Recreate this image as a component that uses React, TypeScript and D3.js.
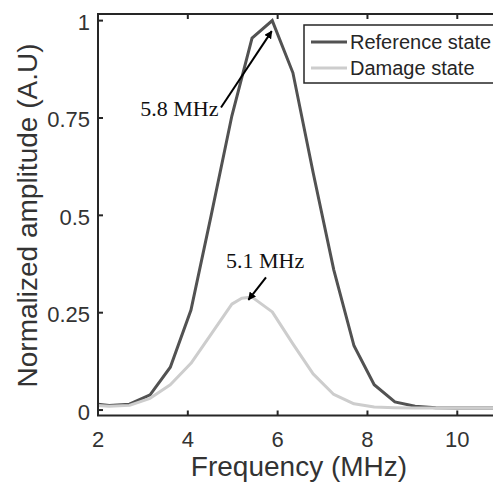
import React from "react";
import * as d3 from "d3";

const refFreq = [2.0, 2.25, 2.7, 3.16, 3.61, 4.07, 4.52, 4.98, 5.43, 5.88, 6.34, 6.79, 7.25, 7.7, 8.15, 8.61, 9.06, 9.52, 9.97, 10.42, 10.88, 11.0];
const refValues = [0.015, 0.012, 0.015, 0.039, 0.11, 0.257, 0.5, 0.755, 0.955, 1.0, 0.866, 0.61, 0.36, 0.165, 0.065, 0.021, 0.01, 0.006, 0.005, 0.005, 0.005, 0.005];

const dmgFreq = [2.0, 2.25, 2.7, 3.16, 3.61, 4.07, 4.52, 4.98, 5.2, 5.43, 5.88, 6.34, 6.79, 7.25, 7.7, 8.15, 8.6, 9.06, 9.52, 9.97, 10.42, 10.88, 11.0];
const dmgValues = [0.012, 0.01, 0.012, 0.03, 0.065, 0.12, 0.195, 0.272, 0.287, 0.29, 0.252, 0.17, 0.093, 0.04, 0.016, 0.008, 0.006, 0.005, 0.005, 0.005, 0.005, 0.005, 0.005];

const xTicks = [2, 4, 6, 8, 10];
const yTicks = [0, 0.25, 0.5, 0.75, 1];
const yTickLabels = ["0", "0.25", "0.5", "0.75", "1"];
const seriesNames = ["Reference state", "Damage state"];
const annotations = [
  { text: "5.8 MHz", x: 5.88, y: 1.0 },
  { text: "5.1 MHz", x: 5.35, y: 0.287 },
];

const W = 493;
const H = 486;
const left = 98;
const top = 14;
const bottom = 415.5;
const xMin = 2, xMax = 11;
const yMin = -0.014, yMax = 1.017;

export default function App() {
  const x = d3.scaleLinear().domain([xMin, xMax]).range([left, left + 9 * 44.91]);
  const y = d3.scaleLinear().domain([yMin, yMax]).range([bottom, top]);
  const right = x(xMax);
  const line = d3.line<[number, number]>().x((d) => x(d[0])).y((d) => y(d[1]));
  const refPath = line(refFreq.map((f, i) => [f, refValues[i]]) as [number, number][]) || "";
  const dmgPath = line(dmgFreq.map((f, i) => [f, dmgValues[i]]) as [number, number][]) || "";
  const axisColor = "#262626";
  const sans = "'Liberation Sans', Arial, sans-serif";
  const serif = "'Liberation Serif', 'Times New Roman', serif";
  const tickLen = 5;

  const a0 = annotations[0];
  const a1 = annotations[1];
  const p0 = { x: x(a0.x), y: y(a0.y) };
  const p1 = { x: x(a1.x), y: y(a1.y) };

  return (
    <svg width={W} height={H} style={{ position: "absolute", left: 0, top: 0, background: "#fff" }}>
      <defs>
        <clipPath id="plotClip">
          <rect x={left} y={top} width={right - left} height={bottom - top} />
        </clipPath>
        <marker id="arrowHead" viewBox="0 0 10 10" refX="9" refY="5" markerWidth="4" markerHeight="4" orient="auto">
          <path d="M0,0 L10,5 L0,10 z" fill="#000" />
        </marker>
      </defs>
      <rect x={0} y={0} width={W} height={H} fill="#fff" />

      {/* series */}
      <g clipPath="url(#plotClip)">
        <path d={refPath} fill="none" stroke="#525252" strokeWidth={3} strokeLinejoin="miter" />
        <path d={dmgPath} fill="none" stroke="#cdcdcd" strokeWidth={3} strokeLinejoin="round" />
      </g>

      {/* axes box */}
      <g stroke={axisColor} strokeWidth={2} fill="none">
        <line x1={left} y1={top} x2={left} y2={bottom} />
        <line x1={left - 1} y1={bottom} x2={right} y2={bottom} />
        <line x1={left - 1} y1={top} x2={right} y2={top} />
        {xTicks.map((t) => (
          <g key={"xt" + t}>
            <line x1={x(t)} x2={x(t)} y1={bottom} y2={bottom - tickLen} />
            <line x1={x(t)} x2={x(t)} y1={top} y2={top + tickLen} />
          </g>
        ))}
        {yTicks.map((t) => (
          <line key={"yt" + t} x1={left} x2={left + tickLen} y1={y(t)} y2={y(t)} />
        ))}
      </g>

      {/* tick labels */}
      <g fontFamily={sans} fontSize={22} fill="#333">
        {xTicks.map((t) => (
          <text key={"xl" + t} x={x(t)} y={447} textAnchor="middle">
            {String(t)}
          </text>
        ))}
        {yTicks.map((t, i) => (
          <text key={"yl" + t} x={90} y={y(t) + 9.5} textAnchor="end">
            {yTickLabels[i]}
          </text>
        ))}
      </g>

      {/* axis labels */}
      <text x={299} y={476} textAnchor="middle" fontFamily={sans} fontSize={28} fill="#333">
        Frequency (MHz)
      </text>
      <text
        transform={`translate(37,215.5) rotate(-90)`}
        textAnchor="middle"
        fontFamily={sans}
        fontSize={28}
        fill="#333"
      >
        Normalized amplitude (A.U)
      </text>

      {/* legend */}
      <g>
        <rect x={304} y={25} width={210} height={58} fill="#fff" stroke={axisColor} strokeWidth={1.5} />
        <line x1={311} x2={347} y1={42} y2={42} stroke="#525252" strokeWidth={3} />
        <line x1={311} x2={347} y1={68} y2={68} stroke="#cdcdcd" strokeWidth={3} />
        <text x={350} y={48.5} fontFamily={sans} fontSize={20} fill={axisColor}>
          {seriesNames[0]}
        </text>
        <text x={350} y={75} fontFamily={sans} fontSize={20} fill={axisColor}>
          {seriesNames[1]}
        </text>
      </g>

      {/* annotations */}
      <g>
        <text x={218.5} y={116} textAnchor="end" fontFamily={serif} fontSize={22} fill="#111">
          {a0.text}
        </text>
        <line x1={221} y1={107.5} x2={p0.x - 0.5} y2={p0.y + 10.5} stroke="#000" strokeWidth={2} markerEnd="url(#arrowHead)" />
        <text x={226} y={268.3} fontFamily={serif} fontSize={22} fill="#111">
          {a1.text}
        </text>
        <line x1={266} y1={277.3} x2={p1.x} y2={p1.y + 1.5} stroke="#000" strokeWidth={2} markerEnd="url(#arrowHead)" />
      </g>
    </svg>
  );
}
